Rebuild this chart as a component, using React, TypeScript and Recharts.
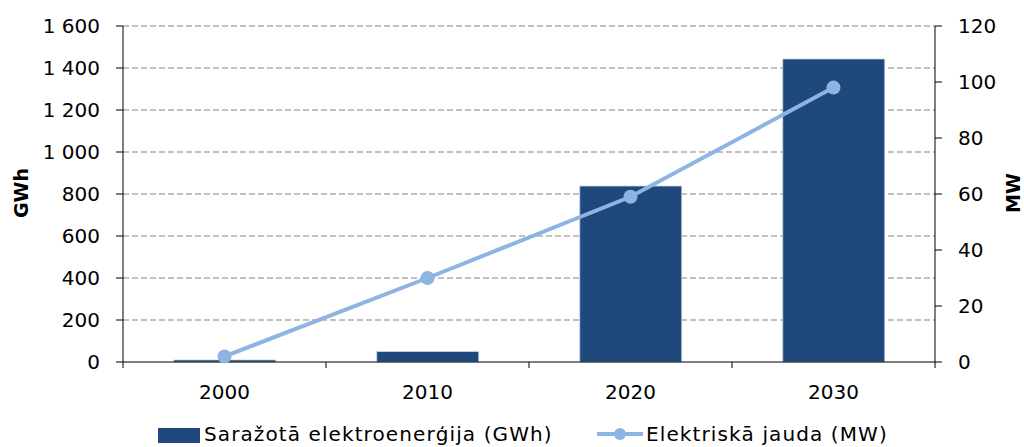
import { ComposedChart, Bar, Line, XAxis, YAxis, CartesianGrid } from 'recharts';

const YEARS = ['2000', '2010', '2020', '2030'];
const ENERGY_GWH = [10, 50, 838, 1443];
const POWER_MW = [2, 30, 59, 98];
const GWH_TICKS = [0, 200, 400, 600, 800, 1000, 1200, 1400, 1600];
const MW_TICKS = [0, 20, 40, 60, 80, 100, 120];

const BAR_NAME = 'Saražotā elektroenerģija (GWh)';
const LINE_NAME = 'Elektriskā jauda (MW)';

const BAR_COLOR = '#1f497d';
const LINE_COLOR = '#8db4e3';
const FONT = 'DejaVu Sans, Verdana, sans-serif';

const data = YEARS.map((year, i) => ({ year, energy: ENERGY_GWH[i], power: POWER_MW[i] }));

const W = 1024;
const H = 447;
const PLOT_LEFT = 123;
const PLOT_RIGHT = 935;
const PLOT_BOTTOM = 362;
const BAND = (PLOT_RIGHT - PLOT_LEFT) / YEARS.length;

const fmtThousands = (v: number) => String(v).replace(/\B(?=(\d{3})+(?!\d))/g, ' ');

// x ticks: label at the band centre, tick marks on band boundaries
function YearTick({ x, y, payload, index }: any) {
  const left = x - BAND / 2;
  return (
    <g>
      <line x1={left} x2={left} y1={PLOT_BOTTOM} y2={PLOT_BOTTOM + 6} stroke="#000" />
      {index === YEARS.length - 1 && (
        <line x1={x + BAND / 2} x2={x + BAND / 2} y1={PLOT_BOTTOM} y2={PLOT_BOTTOM + 6} stroke="#000" />
      )}
      <text x={x} y={y} dy="0.71em" textAnchor="middle" fill="#000" fontSize={20} fontFamily={FONT}>
        {payload.value}
      </text>
    </g>
  );
}

const axisTitle = (text: string, cx: number) => () => (
  <text
    x={cx} y={193} transform={`rotate(-90, ${cx}, 193)`}
    textAnchor="middle" dominantBaseline="central"
    fontSize={19} fontWeight="bold" fontFamily={FONT} fill="#000"
  >
    {text}
  </text>
);

export default function App() {
  const tickStyle = { fill: '#000', fontSize: 20, fontFamily: FONT };
  return (
    <div style={{ position: 'absolute', left: 0, top: 0, width: W, height: H, background: '#fff', overflow: 'hidden' }}>
      <ComposedChart
        width={W} height={H} data={data}
        margin={{ top: 26, right: 0, left: 0, bottom: H - PLOT_BOTTOM - 60 }}
        barCategoryGap="25%"
      >
        <CartesianGrid
          yAxisId="gwh" vertical={false} horizontalValues={GWH_TICKS.slice(1)}
          stroke="#858585" strokeDasharray="6 3"
        />
        <XAxis
          dataKey="year" height={60} tick={<YearTick />} tickLine={false}
          tickSize={6} tickMargin={17} axisLine={{ stroke: '#000' }} interval={0}
        />
        <YAxis
          yAxisId="gwh" width={PLOT_LEFT} domain={[0, 1600]} ticks={GWH_TICKS}
          tickFormatter={fmtThousands} tick={tickStyle} tickSize={7} tickMargin={16}
          axisLine={{ stroke: '#000' }} tickLine={{ stroke: '#000' }}
          label={axisTitle('GWh', 21)}
        />
        <YAxis
          yAxisId="mw" orientation="right" width={W - PLOT_RIGHT} domain={[0, 120]} ticks={MW_TICKS}
          tick={tickStyle} tickSize={7} tickMargin={16}
          axisLine={{ stroke: '#000' }} tickLine={{ stroke: '#000' }}
          label={axisTitle('MW', 1013)}
        />
        <Bar yAxisId="gwh" dataKey="energy" name={BAR_NAME} fill={BAR_COLOR} stroke="#c9d7ea" strokeWidth={0.8} isAnimationActive={false} />
        <Line
          yAxisId="mw" dataKey="power" name={LINE_NAME} type="linear" stroke={LINE_COLOR} strokeWidth={4}
          dot={{ r: 7, fill: LINE_COLOR, stroke: LINE_COLOR, strokeWidth: 0 }} isAnimationActive={false}
        />
      </ComposedChart>
      <div style={{ position: 'absolute', top: 422, left: 0, width: W, height: 25, fontFamily: FONT, fontSize: 20, letterSpacing: 1.1, color: '#000' }}>
        <div style={{ position: 'absolute', left: 158, top: 6, width: 42, height: 15, background: BAR_COLOR }} />
        <span style={{ position: 'absolute', left: 204, top: 0, whiteSpace: 'nowrap' }}>{BAR_NAME}</span>
        <svg style={{ position: 'absolute', left: 597, top: 4 }} width={46} height={16}>
          <line x1={0} x2={46} y1={8} y2={8} stroke={LINE_COLOR} strokeWidth={4} />
          <circle cx={23} cy={8} r={6} fill={LINE_COLOR} />
        </svg>
        <span style={{ position: 'absolute', left: 646, top: 0, whiteSpace: 'nowrap' }}>{LINE_NAME}</span>
      </div>
    </div>
  );
}
